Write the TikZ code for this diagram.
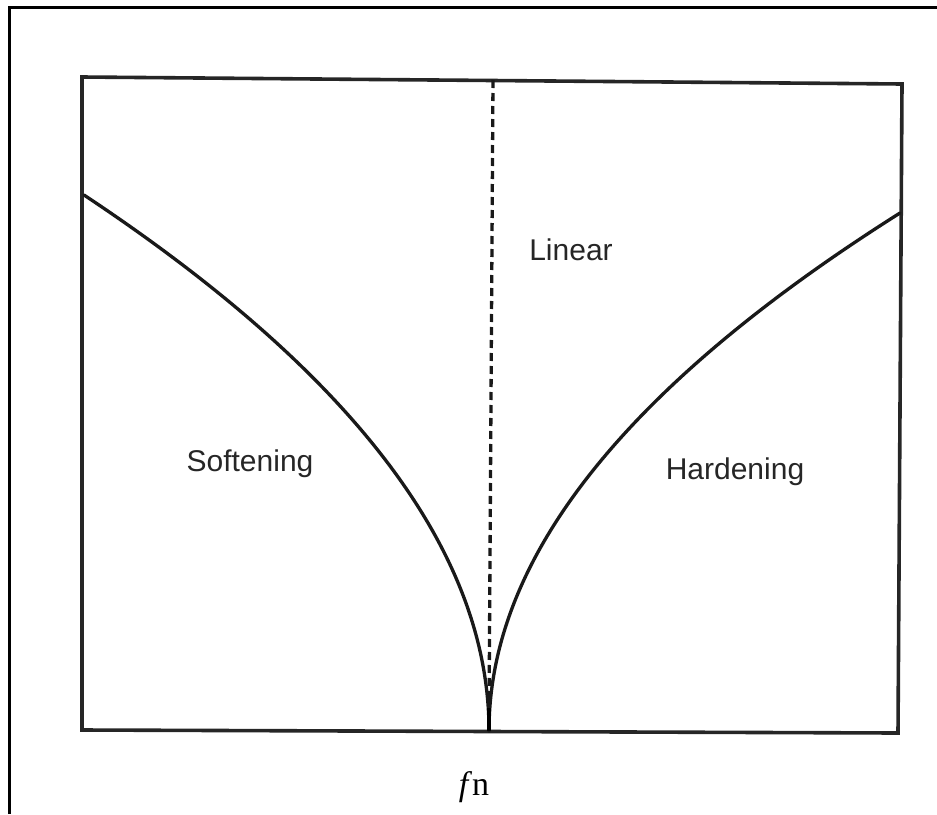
\documentclass[tikz,border=0pt]{standalone}
\usepackage{fontspec}
\setmainfont{Liberation Serif}
\newfontfamily\labelfont{Liberation Sans}
\begin{document}
\begin{tikzpicture}[x=1pt,y=-1pt,
  frame/.style={line width=3pt,black},
  boxline/.style={line width=3.6pt,black!85,line join=miter},
  curveline/.style={line width=3.3pt,black!90,line cap=round},
  dashline/.style={line width=3.3pt,black!90,dash pattern=on 8pt off 5pt},
  region/.style={font=\labelfont\fontsize{30}{36}\selectfont,text=black!85,inner sep=0pt},
  axis/.style={font=\fontsize{34}{40}\selectfont,inner sep=0pt}]
\useasboundingbox (0,0) rectangle (937,814);
% outer frame (left and top)
\draw[frame] (9,814) -- (9,7) -- (937,7);
% inner box
\coordinate (tl) at (82,77);
\coordinate (tr) at (902,84);
\coordinate (br) at (898,733);
\coordinate (bl) at (82,730);
\draw[boxline] (tl) -- (tr) -- (br) -- (bl) -- cycle;
% cusp and curve ends
\coordinate (cusp) at (489,731);
\coordinate (sstart) at (84,195);
\coordinate (hstart) at (900,213);
\coordinate (ltop) at (493,80);
\coordinate (lbot) at (489,718);
\draw[dashline] (ltop) -- (lbot);
% softening curve (parabola with vertex at cusp)
\draw[curveline] (sstart) .. controls (354,374) and (489,552) .. (cusp);
% hardening curve
\draw[curveline] (hstart) .. controls (626,386) and (489,558) .. (cusp);
\draw[line width=4.5pt,black] (489,708) -- (cusp);
% labels
\node[region] (lin) at (571,250) {Linear};
\node[region] (soft) at (250,464) {Softening};
\node[region] (hard) at (735,472) {Hardening};
\node[axis,anchor=base] (fn) at (474,795) {\textit{f}n};
\end{tikzpicture}
\end{document}
